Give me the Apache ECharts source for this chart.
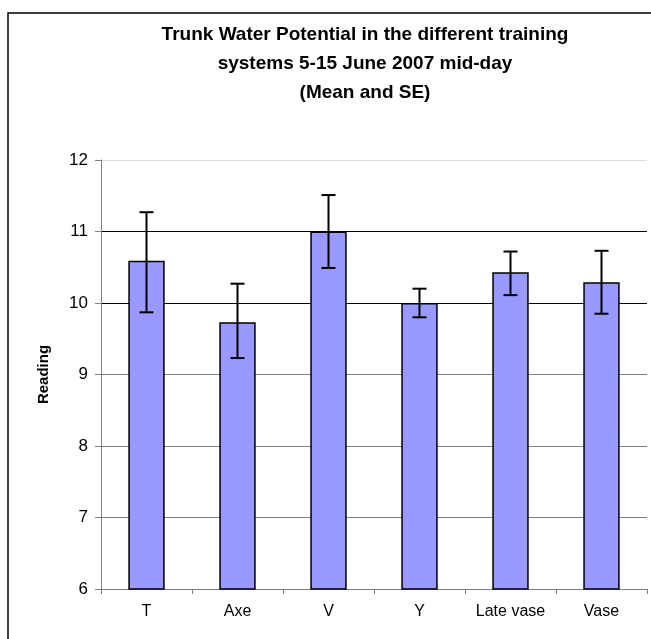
<!DOCTYPE html>
<html>
<head>
<meta charset="utf-8">
<script src="https://cdn.jsdelivr.net/npm/echarts@6/dist/echarts.min.js"></script>
<style>
  html, body { margin: 0; padding: 0; background: #fff; }
  #chart { width: 651px; height: 639px; }
</style>
</head>
<body>
<div id="chart"></div>
<script>
var categories = ['T', 'Axe', 'V', 'Y', 'Late vase', 'Vase'];
var means = [10.59, 9.73, 11.0, 10.0, 10.43, 10.29];
var errLow = [9.87, 9.23, 10.49, 9.80, 10.11, 9.85];
var errHigh = [11.27, 10.27, 11.51, 10.20, 10.72, 10.73];
var yTicks = [6, 7, 8, 9, 10, 11, 12];

var chart = echarts.init(document.getElementById('chart'));

var errData = categories.map(function (c, i) {
    return [i, errLow[i], errHigh[i]];
});

var option = {
    animation: false,
    textStyle: { fontFamily: 'Liberation Sans, Arial, sans-serif' },
    title: {
        text: 'Trunk Water Potential in the different training\nsystems 5-15 June 2007 mid-day\n(Mean and SE)',
        left: 360,
        top: 15,
        textAlign: 'center',
        textStyle: {
            fontSize: 19,
            fontWeight: 'bold',
            color: '#000',
            lineHeight: 29
        }
    },
    graphic: [{
        type: 'rect',
        shape: { x: 8, y: 13, width: 720, height: 700 },
        style: { fill: 'none', stroke: '#000', lineWidth: 1.5 },
        silent: true
    }],
    grid: { left: 101, right: 4, top: 160, bottom: 50 },
    xAxis: {
        type: 'category',
        data: categories,
        axisLine: { lineStyle: { color: '#808080', width: 1 } },
        axisTick: { show: true, length: 5, lineStyle: { color: '#808080' } },
        axisLabel: { color: '#000', fontSize: 16, margin: 15 }
    },
    yAxis: {
        type: 'value',
        min: yTicks[0],
        max: yTicks[yTicks.length - 1],
        interval: 1,
        name: 'Reading',
        nameLocation: 'middle',
        nameGap: 50,
        nameTextStyle: { fontSize: 15, fontWeight: 'bold', color: '#000' },
        axisLine: { show: true, lineStyle: { color: '#808080', width: 1 } },
        axisTick: { show: true, length: 6, lineStyle: { color: '#808080' } },
        axisLabel: { color: '#000', fontSize: 17, margin: 13 },
        splitLine: {
            show: true,
            lineStyle: {
                color: ['#808080', '#808080', '#808080', '#808080', '#000', '#000', '#dddddd'],
                width: 1
            }
        }
    },
    series: [
        {
            name: 'Mean',
            type: 'bar',
            data: means,
            barWidth: '40%',
            itemStyle: {
                color: '#9999ff',
                borderColor: '#000',
                borderWidth: 1.5
            }
        },
        {
            name: 'SE',
            type: 'custom',
            data: errData,
            z: 10,
            renderItem: function (params, api) {
                var x = api.value(0);
                var lo = api.coord([x, api.value(1)]);
                var hi = api.coord([x, api.value(2)]);
                var half = 7;
                var style = { stroke: '#000', lineWidth: 2 };
                return {
                    type: 'group',
                    children: [
                        { type: 'line', shape: { x1: hi[0], y1: hi[1], x2: lo[0], y2: lo[1] }, style: style },
                        { type: 'line', shape: { x1: hi[0] - half, y1: hi[1], x2: hi[0] + half, y2: hi[1] }, style: style },
                        { type: 'line', shape: { x1: lo[0] - half, y1: lo[1], x2: lo[0] + half, y2: lo[1] }, style: style }
                    ]
                };
            }
        }
    ]
};

chart.setOption(option);
</script>
</body>
</html>
